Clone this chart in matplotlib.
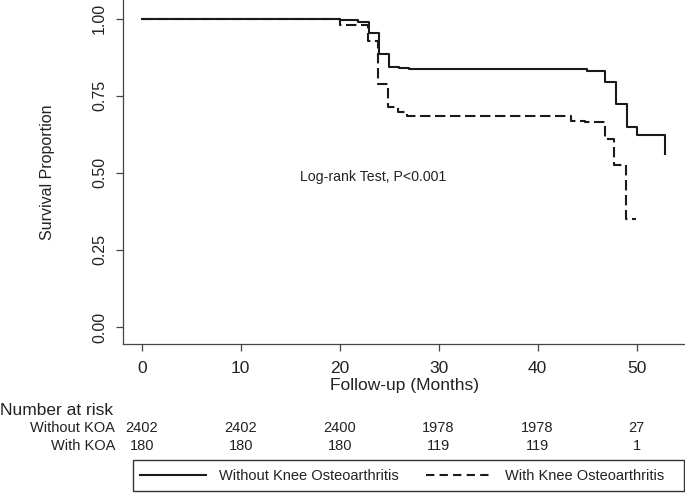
import matplotlib
matplotlib.use("Agg")
import matplotlib.pyplot as plt
from matplotlib.lines import Line2D
from matplotlib.patches import Rectangle
import matplotlib.transforms as mtransforms

plt.rcParams['font.family'] = ['Liberation Sans', 'DejaVu Sans']

# Kaplan-Meier step data
t_without = [0, 20.0, 21.9, 23.0, 24.0, 25.0, 26.0, 27.0, 45.0, 46.8, 47.9, 49.0, 50.0, 52.9]
s_without = [1.0, 0.995, 0.990, 0.954, 0.884, 0.844, 0.841, 0.836, 0.831, 0.795, 0.723, 0.647, 0.623, 0.560]

t_with = [0, 20.0, 22.9, 23.9, 24.9, 25.9, 26.8, 43.4, 44.8, 46.8, 47.7, 48.9, 49.9]
s_with = [1.0, 0.979, 0.928, 0.788, 0.714, 0.696, 0.685, 0.669, 0.664, 0.608, 0.525, 0.349, 0.349]

x_ticks = [0, 10, 20, 30, 40, 50]
y_ticks = [0.00, 0.25, 0.50, 0.75, 1.00]
y_ticklabels = ["0.00", "0.25", "0.50", "0.75", "1.00"]

risk_groups = ["Without KOA", "With KOA"]
risk_without = [2402, 2402, 2400, 1978, 1978, 27]
risk_with = [180, 180, 180, 119, 119, 1]

legend_labels = ["Without Knee Osteoarthritis", "With Knee Osteoarthritis"]

W, H = 685, 494
fig = plt.figure(figsize=(W / 100, H / 100), dpi=100)
ax = fig.add_axes([123 / W, 1 - 344 / H, 1 - 123 / W, 344 / H])

line_col = '#1a1a1a'
ax.step(t_without, s_without, where='post', color=line_col, lw=1.5)
ax.step(t_with, s_with, where='post', color=line_col, lw=1.5, linestyle=(0, (5, 2.2)))

ax.set_xlim(-1.89, 54.9)
ax.set_ylim(-0.055, 1.060)

for side in ['top', 'right']:
    ax.spines[side].set_visible(False)
for side in ['left', 'bottom']:
    ax.spines[side].set_color('#444444')
    ax.spines[side].set_linewidth(0.9)

ax.set_xticks(x_ticks)
ax.set_xticklabels([str(v) for v in x_ticks], fontsize=12.5, color='#222222')
ax.set_yticks(y_ticks)
ax.set_yticklabels(y_ticklabels, fontsize=11.5, rotation=90, va='center', color='#222222')
ax.tick_params(axis='both', direction='out', length=5, width=0.9, color='#444444')
ax.tick_params(axis='x', pad=7)
ax.tick_params(axis='y', pad=6.5)

ax.set_xlabel("Follow-up (Months)", fontsize=12.5, labelpad=1.5, color='#222222')
ax.set_ylabel("Survival Proportion", fontsize=11.5, labelpad=27, color='#222222')

ax.text(23.4, 0.487, "Log-rank Test, P<0.001", fontsize=10.2, ha='center', va='center', color='#222222')

# Number at risk table
blend = mtransforms.blended_transform_factory(ax.transData, fig.transFigure)
fig.text(0.0, 1 - 410.7 / H, "Number at risk", fontsize=12.5, ha='left', va='center', color='#222222')
row_y = [1 - 428 / H, 1 - 446 / H]
for name, y in zip(risk_groups, row_y):
    fig.text(115 / W, y, name, fontsize=10.5, ha='right', va='center', color='#222222')
for xv, n in zip(x_ticks, risk_without):
    ax.text(xv, row_y[0], str(n), transform=blend, fontsize=10.5, ha='center', va='center', color='#222222')
for xv, n in zip(x_ticks, risk_with):
    ax.text(xv, row_y[1], str(n), transform=blend, fontsize=10.5, ha='center', va='center', color='#222222')

# Legend box
box = Rectangle((133 / W, 1 - 491 / H), (684 - 133) / W, (491 - 460) / H,
                transform=fig.transFigure, fill=False, edgecolor='#333333', lw=1.0)
fig.patches.append(box)
handles = [Line2D([], [], color=line_col, lw=1.5),
           Line2D([], [], color=line_col, lw=1.5, linestyle=(0, (4, 2.5)))]
fig.legend(handles, legend_labels, loc='center', ncol=2, frameon=False,
           bbox_to_anchor=(402 / W, 1 - 476 / H), fontsize=10.5,
           handlelength=4.5, handletextpad=0.9, columnspacing=1.9, labelcolor='#222222')

fig.savefig("out.png", dpi=100)
